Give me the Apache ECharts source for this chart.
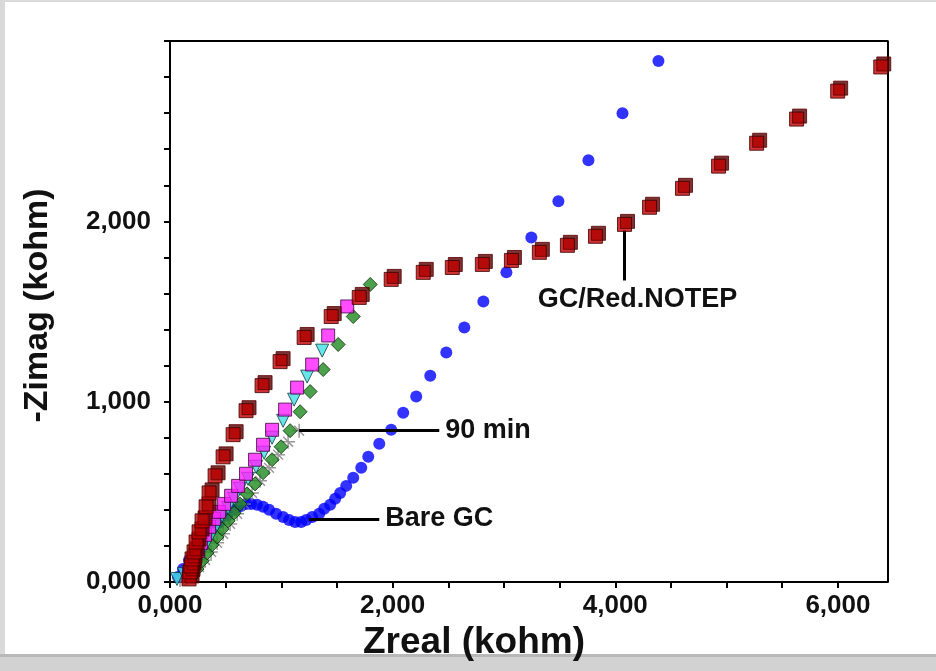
<!DOCTYPE html>
<html>
<head>
<meta charset="utf-8">
<script src="https://cdn.jsdelivr.net/npm/echarts@6/dist/echarts.min.js"></script>
<style>
  html, body { margin: 0; padding: 0; background: #d9d9d9; }
  #chart { width: 936px; height: 671px; }
</style>
</head>
<body>
<div id="chart"></div>
<script>
// Nyquist plots, Zreal vs -Zimag (kohm)

// GC/Red.NOTEP
const redZreal = [171, 180, 189, 198, 216, 234, 261, 288, 324, 351, 405, 477, 567, 683, 827, 989, 1205, 1448, 1700, 1987, 2275, 2536, 2806, 3067, 3318, 3570, 3822, 4083, 4308, 4604, 4928, 5270, 5629, 5998, 6385];
const redZimag = [17, 56, 89, 128, 167, 222, 278, 339, 417, 494, 589, 694, 817, 950, 1089, 1222, 1356, 1472, 1578, 1678, 1717, 1744, 1761, 1783, 1828, 1867, 1917, 1983, 2078, 2183, 2306, 2433, 2567, 2722, 2856];

// Bare GC
const blueZreal = [72, 117, 171, 234, 297, 369, 441, 513, 585, 638, 683, 728, 782, 836, 890, 953, 1016, 1070, 1124, 1178, 1223, 1277, 1340, 1385, 1439, 1484, 1529, 1583, 1646, 1718, 1781, 1880, 1987, 2095, 2212, 2338, 2482, 2644, 2815, 3022, 3246, 3489, 3759, 4065, 4388];
const blueZimag = [28, 72, 122, 178, 233, 283, 328, 367, 400, 422, 433, 433, 428, 417, 400, 378, 361, 344, 333, 333, 344, 361, 378, 406, 428, 461, 494, 533, 578, 633, 694, 767, 844, 939, 1028, 1144, 1272, 1411, 1556, 1717, 1911, 2111, 2339, 2600, 2889];

// Magenta squares
const magZreal = [171, 198, 225, 252, 279, 315, 351, 396, 441, 486, 549, 612, 683, 764, 836, 917, 1034, 1142, 1277, 1421, 1592];
const magZimag = [39, 83, 128, 172, 217, 261, 306, 350, 389, 433, 478, 533, 600, 678, 761, 844, 956, 1078, 1206, 1367, 1528];

// Cyan triangles
const cyanZreal = [63, 126, 198, 243, 288, 333, 378, 423, 468, 522, 576, 629, 701, 773, 845, 917, 1016, 1115, 1232, 1367];
const cyanZimag = [17, 44, 67, 117, 167, 217, 267, 317, 367, 411, 461, 517, 572, 639, 717, 800, 894, 1011, 1139, 1283];

// Green diamonds
const greenZreal = [207, 243, 288, 333, 378, 423, 468, 522, 576, 629, 692, 764, 836, 917, 998, 1079, 1169, 1259, 1376, 1511, 1646, 1799];
const greenZimag = [33, 72, 117, 161, 206, 250, 294, 339, 383, 433, 489, 544, 606, 678, 750, 839, 944, 1056, 1178, 1317, 1472, 1650];

// 90 min (gray crosses)
const grayZreal = [90, 153, 207, 261, 315, 369, 423, 477, 540, 603, 665, 737, 809, 890, 971, 1061, 1160];
const grayZimag = [11, 22, 50, 83, 122, 167, 217, 267, 322, 378, 433, 494, 561, 633, 706, 778, 839];

// Tick labels
const xTickLabels = ['0,000', '2,000', '4,000', '6,000'];
const yTickLabels = ['0,000', '1,000', '2,000'];

// Annotation leaders [x1, y1, x2, y2] and texts
const label90 = '90 min';
const leader90 = [1160, 839, 2419, 839];
const labelBare = 'Bare GC';
const leaderBare = [1250, 350, 1880, 350];
const labelRed = 'GC/Red.NOTEP';
const leaderRed = [4083, 1950, 4083, 1672];

const zip = (a, b) => a.map((v, i) => [v, b[i]]);

const textFont = { fontFamily: 'Liberation Sans, Arial, sans-serif', fontWeight: 'bold', color: '#111' };

function leader(pts, text, pos, pad) {
  return {
    silent: true,
    symbol: ['none', 'none'],
    lineStyle: { color: '#000', width: 3, type: 'solid' },
    label: Object.assign({ show: true, position: pos, formatter: text, fontSize: 27, distance: 6, padding: pad || 0 }, textFont),
    data: [[{ coord: [pts[0], pts[1]] }, { coord: [pts[2], pts[3]] }]]
  };
}

const chart = echarts.init(document.getElementById('chart'), null, { renderer: 'canvas' });

chart.setOption({
  animation: false,
  backgroundColor: '#d9d9d9',
  graphic: [
    { type: 'rect', z: -10, shape: { x: 5, y: 2, width: 931, height: 652 }, style: { fill: '#ffffff' } },
    { type: 'rect', z: -10, shape: { x: 0, y: 654, width: 936, height: 3 }, style: { fill: '#b8b8b8' } },
    { type: 'rect', z: -10, shape: { x: 0, y: 657, width: 936, height: 14 }, style: { fill: '#d2d2d2' } }
  ],
  grid: { left: 170, right: 48, top: 41, bottom: 89, show: false },
  xAxis: {
    type: 'value',
    min: 0, max: 6450, interval: 500,
    name: 'Zreal (kohm)',
    nameLocation: 'middle',
    nameGap: 34,
    nameTextStyle: Object.assign({ fontSize: 37, padding: [0, 110, 0, 0] }, textFont),
    axisLine: { show: true, onZero: false, lineStyle: { color: '#000', width: 2 } },
    axisTick: { show: true, inside: false, length: 6, lineStyle: { color: '#000', width: 2 } },
    axisLabel: Object.assign({
      fontSize: 26, margin: 11, showMaxLabel: false,
      formatter: v => (v % 2000 === 0 ? xTickLabels[v / 2000] : '')
    }, textFont),
    splitLine: { show: false }
  },
  yAxis: {
    type: 'value',
    min: 0, max: 3000, interval: 200,
    name: '-Zimag (kohm)',
    nameLocation: 'middle',
    nameGap: 115,
    nameTextStyle: Object.assign({ fontSize: 34, padding: [0, 0, 0, 12] }, textFont),
    axisLine: { show: true, onZero: false, lineStyle: { color: '#000', width: 2 } },
    axisTick: { show: true, inside: false, length: 6, lineStyle: { color: '#000', width: 2 } },
    axisLabel: Object.assign({
      fontSize: 26, margin: 19,
      formatter: v => (v % 1000 === 0 && v < 3000 ? yTickLabels[v / 1000] : '')
    }, textFont),
    splitLine: { show: false }
  },
  series: [
    // top and right frame lines
    {
      type: 'line', data: [[0, 3000], [6450, 3000], [6450, 0]], symbol: 'none', silent: true,
      lineStyle: { color: '#000', width: 2 }, z: 1
    },
    {
      name: 'Bare GC', type: 'scatter', data: zip(blueZreal, blueZimag),
      symbol: 'circle', symbolSize: 12,
      itemStyle: { color: '#0000ff' },
      markLine: leader(leaderBare, labelBare, 'end'),
      z: 2
    },
    {
      name: '90 min', type: 'scatter', data: zip(grayZreal, grayZimag),
      symbol: 'path://M0,-10L0,10M-10,0L10,0M-7,-7L7,7', symbolSize: 14,
      itemStyle: { color: 'none', borderColor: '#808080', borderWidth: 1.5 },
      markLine: leader(leader90, label90, 'end'),
      z: 3
    },
    {
      name: 'green', type: 'scatter', data: zip(greenZreal, greenZimag),
      symbol: 'diamond', symbolSize: 14,
      itemStyle: { color: '#1f8a1f', borderColor: '#0a300a', borderWidth: 1 },
      z: 4
    },
    {
      name: 'cyan', type: 'scatter', data: zip(cyanZreal, cyanZimag),
      symbol: 'triangle', symbolRotate: 180, symbolSize: 13,
      itemStyle: { color: '#40dfe6', borderColor: '#103a3a', borderWidth: 1 },
      z: 5
    },
    {
      name: 'magenta', type: 'scatter', data: zip(magZreal, magZimag),
      symbol: 'rect', symbolSize: 13,
      itemStyle: { color: '#ff1fff', borderColor: '#3a0a3a', borderWidth: 1 },
      z: 6
    },
    {
      name: 'GC/Red.NOTEP', type: 'scatter', data: zip(redZreal, redZimag),
      symbol: 'rect', symbolSize: 14,
      itemStyle: {
        color: '#c40000', borderColor: '#3a0000', borderWidth: 1,
        shadowColor: '#5a0000', shadowBlur: 0, shadowOffsetX: 3, shadowOffsetY: -3
      },
      markLine: leader(leaderRed, labelRed, 'end', [0, 0, 0, 26]),
      z: 7
    }
  ]
});
</script>
</body>
</html>
